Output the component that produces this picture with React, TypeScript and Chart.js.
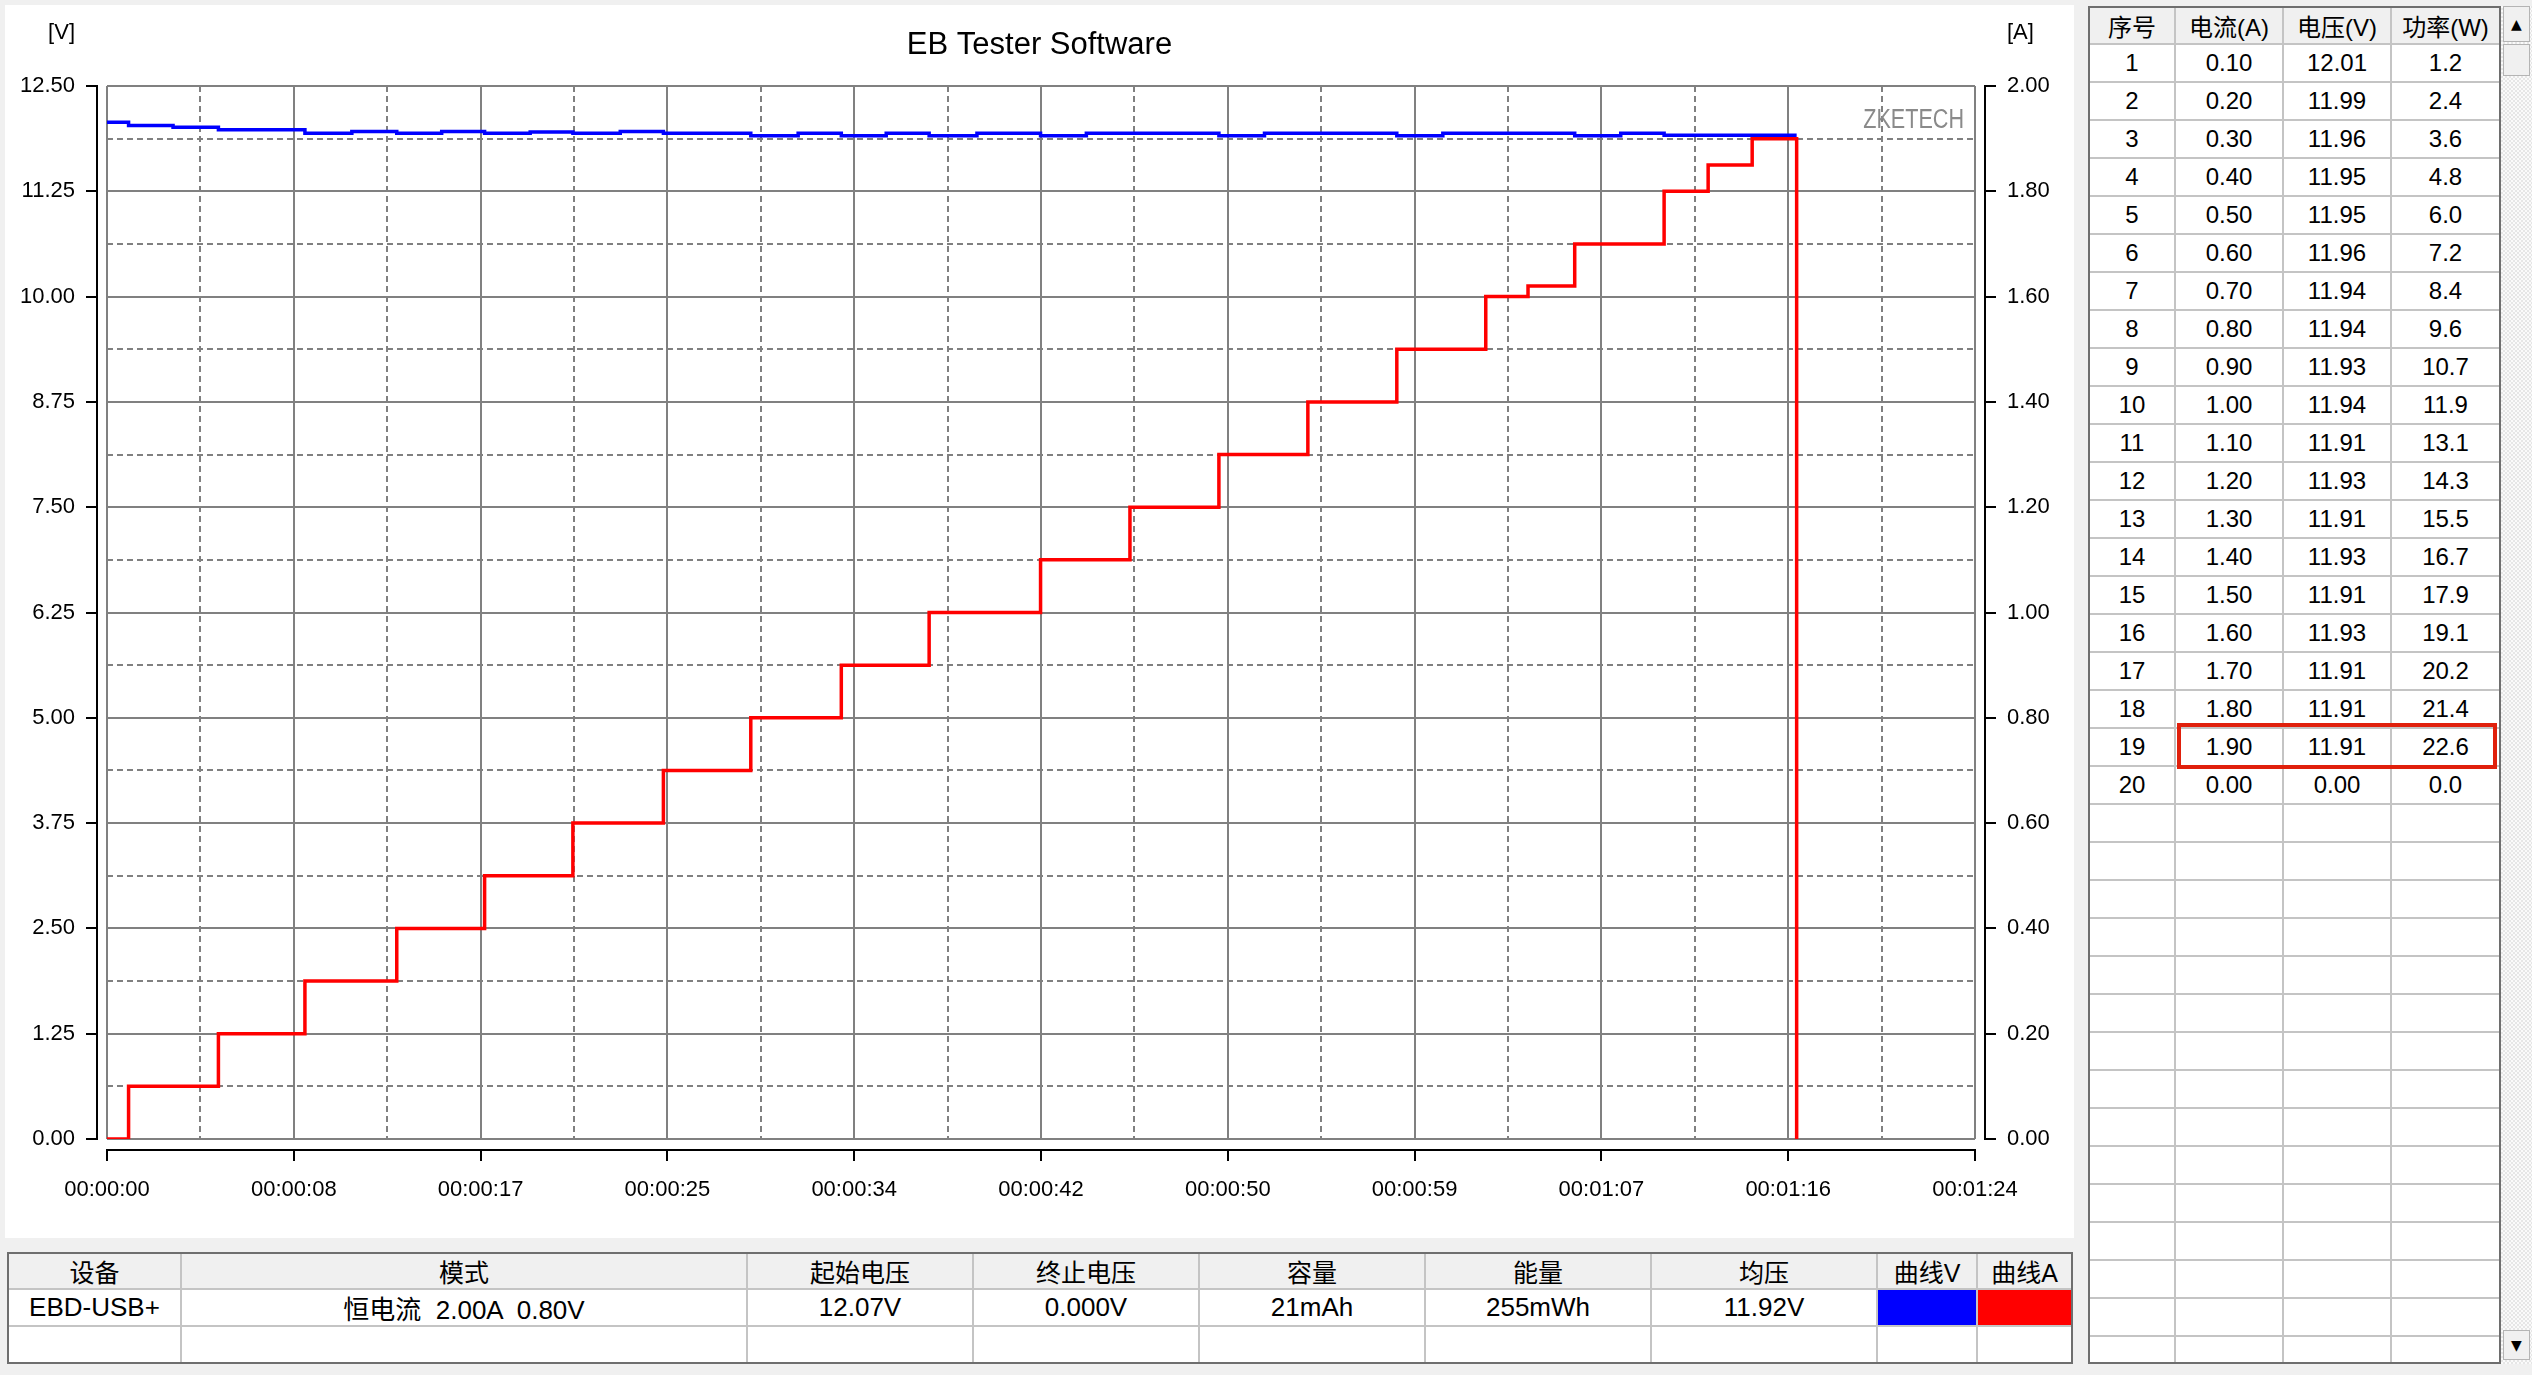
import React, { useEffect, useRef } from 'react';
import { Chart, registerables } from 'chart.js';

Chart.register(...registerables);

// ---------------- data ----------------
const TITLE = 'EB Tester Software';
const WATERMARK = 'ZKETECH';
const V_UNIT = '[V]';
const A_UNIT = '[A]';

// sample times (s) where either curve changes
const TIME_S = [
  0, 0.97, 2.97, 5.01, 8.9, 11.01, 13.03, 15.05, 16.98, 19.03, 20.95, 23.08, 25.02, 28.95, 31.08,
  33.02, 35.04, 36.97, 39.12, 41.98, 44.04, 46.0, 50.0, 52.05, 54.0, 58.0, 60.07, 62.0, 63.9, 66.0,
  68.07, 70.02, 72.0, 73.98, 75.98,
];
const CURRENT_A = [
  0, 0.1, 0.1, 0.2, 0.3, 0.3, 0.4, 0.4, 0.5, 0.5, 0.6, 0.6, 0.7, 0.8, 0.8,
  0.9, 0.9, 1.0, 1.0, 1.1, 1.1, 1.2, 1.3, 1.3, 1.4, 1.5, 1.5, 1.6, 1.62, 1.7,
  1.7, 1.8, 1.85, 1.9, 0,
];
const VOLTAGE_V = [
  12.07, 12.03, 12.01, 11.98, 11.94, 11.96, 11.94, 11.96, 11.94, 11.955, 11.94, 11.96, 11.94, 11.91, 11.94,
  11.91, 11.94, 11.91, 11.94, 11.91, 11.94, 11.94, 11.91, 11.94, 11.94, 11.91, 11.94, 11.94, 11.94, 11.91,
  11.94, 11.915, 11.915, 11.915, 11.915,
];

const X_TICK_LABELS = [
  '00:00:00', '00:00:08', '00:00:17', '00:00:25', '00:00:34', '00:00:42',
  '00:00:50', '00:00:59', '00:01:07', '00:01:16', '00:01:24',
];
const V_TICK_LABELS = ['0.00', '1.25', '2.50', '3.75', '5.00', '6.25', '7.50', '8.75', '10.00', '11.25', '12.50'];
const A_TICK_LABELS = ['0.00', '0.20', '0.40', '0.60', '0.80', '1.00', '1.20', '1.40', '1.60', '1.80', '2.00'];
const X_MAX_S = 84;
const V_MAX = 12.5;
const A_MAX = 2;

// right-hand table
const TABLE_HEADERS = ['序号', '电流(A)', '电压(V)', '功率(W)'];
const ROW_NO = [1, 2, 3, 4, 5, 6, 7, 8, 9, 10, 11, 12, 13, 14, 15, 16, 17, 18, 19, 20];
const ROW_CURRENT_A = [0.1, 0.2, 0.3, 0.4, 0.5, 0.6, 0.7, 0.8, 0.9, 1.0, 1.1, 1.2, 1.3, 1.4, 1.5, 1.6, 1.7, 1.8, 1.9, 0];
const ROW_VOLTAGE_V = [12.01, 11.99, 11.96, 11.95, 11.95, 11.96, 11.94, 11.94, 11.93, 11.94, 11.91, 11.93, 11.91, 11.93, 11.91, 11.93, 11.91, 11.91, 11.91, 0];
const ROW_POWER_W = [1.2, 2.4, 3.6, 4.8, 6.0, 7.2, 8.4, 9.6, 10.7, 11.9, 13.1, 14.3, 15.5, 16.7, 17.9, 19.1, 20.2, 21.4, 22.6, 0];

// bottom summary table
const SUMMARY_HEADERS = ['设备', '模式', '起始电压', '终止电压', '容量', '能量', '均压', '曲线V', '曲线A'];
const SUMMARY_VALUES = ['EBD-USB+', '恒电流  2.00A  0.80V', '12.07V', '0.000V', '21mAh', '255mWh', '11.92V'];

// ---------------- styles ----------------
const LATIN = "'Liberation Sans', Arial, sans-serif";
const MIXED = "'Liberation Sans', 'Noto Sans CJK SC', sans-serif";
const GRID = '#808080';
const BLUE = '#0000ff';
const RED = '#ff0000';
const TICK_SIZE = 22;

const axesPlugin = {
  id: 'ebAxes',
  beforeDatasetsDraw(chart: any) {
    const { ctx, chartArea: ca } = chart;
    ctx.save();
    ctx.font = `27px ${LATIN}`;
    ctx.fillStyle = '#8a8a8a';
    ctx.textAlign = 'right';
    ctx.textBaseline = 'alphabetic';
    ctx.translate(ca.right - 11, ca.top + 42);
    ctx.scale(0.8, 1);
    ctx.fillText(WATERMARK, 0, 0);
    ctx.restore();
  },
  afterDraw(chart: any) {
    const { ctx, chartArea: ca, scales } = chart;
    const xs = scales.x;
    const yv = scales.yV;
    const ya = scales.yA;
    ctx.save();
    ctx.strokeStyle = '#000';
    ctx.lineWidth = 2;
    ctx.beginPath();
    // left axis
    const lx = ca.left - 10;
    ctx.moveTo(lx, ca.top - 1);
    ctx.lineTo(lx, ca.bottom + 1);
    yv.ticks.forEach((_t: any, i: number) => {
      if (i % 2 === 0) {
        const p = Math.round(yv.getPixelForTick(i));
        ctx.moveTo(lx - 11, p);
        ctx.lineTo(lx, p);
      }
    });
    // right axis
    const rx = ca.right + 10;
    ctx.moveTo(rx, ca.top - 1);
    ctx.lineTo(rx, ca.bottom + 1);
    ya.ticks.forEach((_t: any, i: number) => {
      const p = Math.round(ya.getPixelForTick(i));
      ctx.moveTo(rx, p);
      ctx.lineTo(rx + 11, p);
    });
    // bottom axis
    const by = ca.bottom + 11;
    ctx.moveTo(ca.left - 1, by);
    ctx.lineTo(ca.right + 1, by);
    xs.ticks.forEach((_t: any, i: number) => {
      if (i % 2 === 0) {
        const p = Math.round(xs.getPixelForTick(i));
        ctx.moveTo(p, by);
        ctx.lineTo(p, by + 11);
      }
    });
    ctx.stroke();

    ctx.fillStyle = '#000';
    ctx.font = `${TICK_SIZE}px ${LATIN}`;
    ctx.textBaseline = 'middle';
    ctx.textAlign = 'right';
    ctx.fillText(V_UNIT, ca.left - 32, 28);
    ctx.textAlign = 'left';
    ctx.fillText(A_UNIT, ca.right + 32, 28);
    ctx.restore();
  },
};

const dashFor = (c: any) => (c.index % 2 === 1 ? [6, 4] : []);

function EBChart() {
  const ref = useRef<HTMLCanvasElement | null>(null);
  useEffect(() => {
    if (!ref.current) return;
    const chart = new Chart(ref.current, {
      type: 'line',
      data: {
        datasets: [
          {
            label: 'A',
            data: TIME_S.map((t, i) => ({ x: t, y: CURRENT_A[i] })),
            yAxisID: 'yA',
            borderColor: RED,
            borderWidth: 3.5,
            pointRadius: 0,
            stepped: 'before',
            fill: false,
          },
          {
            label: 'V',
            data: TIME_S.map((t, i) => ({ x: t, y: VOLTAGE_V[i] })),
            yAxisID: 'yV',
            borderColor: BLUE,
            borderWidth: 3.5,
            pointRadius: 0,
            stepped: 'before',
            fill: false,
          },
        ],
      },
      options: {
        responsive: false,
        animation: false,
        devicePixelRatio: 1,
        layout: { padding: 0 },
        plugins: {
          legend: { display: false },
          tooltip: { enabled: false },
          title: {
            display: true,
            text: TITLE,
            color: '#000',
            font: { family: "'Liberation Sans', Arial, sans-serif", size: 31, weight: 'normal', lineHeight: '36px' },
            padding: { top: 22, bottom: 23 },
          },
        },
        scales: {
          x: {
            type: 'linear',
            min: 0,
            max: X_MAX_S,
            afterFit: (s: any) => { s.height = 99; },
            grid: { color: GRID, lineWidth: 2, drawTicks: false },
            border: { display: false, dash: dashFor },
            ticks: {
              stepSize: X_MAX_S / ((X_TICK_LABELS.length - 1) * 2),
              maxTicksLimit: 100,
              autoSkip: false,
              maxRotation: 0,
              padding: 38,
              color: '#000',
              font: { family: LATIN, size: TICK_SIZE },
              callback: (_v: any, i: number) => (i % 2 === 0 ? X_TICK_LABELS[i / 2] : ''),
            },
          },
          yV: {
            type: 'linear',
            position: 'left',
            min: 0,
            max: V_MAX,
            afterFit: (s: any) => { s.width = 102; },
            grid: { color: GRID, lineWidth: 2, drawTicks: false },
            border: { display: false, dash: dashFor },
            ticks: {
              stepSize: V_MAX / ((V_TICK_LABELS.length - 1) * 2),
              maxTicksLimit: 100,
              autoSkip: false,
              padding: 32,
              color: '#000',
              font: { family: LATIN, size: TICK_SIZE },
              callback: (_v: any, i: number) => (i % 2 === 0 ? V_TICK_LABELS[i / 2] : ''),
            },
          },
          yA: {
            type: 'linear',
            position: 'right',
            min: 0,
            max: A_MAX,
            afterFit: (s: any) => { s.width = 99; },
            grid: { display: false, drawOnChartArea: false, drawTicks: false },
            border: { display: false },
            ticks: {
              stepSize: A_MAX / (A_TICK_LABELS.length - 1),
              maxTicksLimit: 100,
              autoSkip: false,
              padding: 32,
              color: '#000',
              font: { family: LATIN, size: TICK_SIZE },
              callback: (_v: any, i: number) => A_TICK_LABELS[i],
            },
          },
        },
      },
      plugins: [axesPlugin],
    } as any);
    return () => chart.destroy();
  }, []);
  return <canvas ref={ref} width={2069} height={1233} style={{ display: 'block' }} />;
}

const cellBase: React.CSSProperties = {
  display: 'flex',
  alignItems: 'center',
  justifyContent: 'center',
  whiteSpace: 'pre',
  overflow: 'hidden',
  color: '#000',
};

function SummaryTable() {
  return (
    <div
      style={{
        position: 'absolute', left: 7, top: 1252, width: 2066, height: 112, boxSizing: 'border-box',
        border: '2px solid #6e6e6e', background: '#c4c4c4', display: 'grid',
        gridTemplateColumns: '171px 564px 224px 224px 224px 224px 224px 98px 93px',
        gridTemplateRows: '34px 35px 35px', columnGap: 2, rowGap: 2, fontFamily: MIXED,
      }}
    >
      {SUMMARY_HEADERS.map((h) => (
        <div key={'h' + h} style={{ ...cellBase, background: '#f0f0f0', fontSize: 25 }}>{h}</div>
      ))}
      {SUMMARY_VALUES.map((v, i) => (
        <div key={'v' + i} style={{ ...cellBase, background: '#fff', fontSize: 26 }}>{v}</div>
      ))}
      <div style={{ ...cellBase, background: BLUE }} />
      <div style={{ ...cellBase, background: RED }} />
      {SUMMARY_HEADERS.map((h) => (
        <div key={'e' + h} style={{ ...cellBase, background: '#fff' }} />
      ))}
    </div>
  );
}

function DataTable() {
  const emptyRows = 16;
  return (
    <div
      style={{
        position: 'absolute', left: 2088, top: 6, width: 413, height: 1358, boxSizing: 'border-box',
        border: '2px solid #6e6e6e', background: '#c4c4c4', overflow: 'hidden', display: 'grid',
        gridTemplateColumns: '84px 106px 106px 107px', gridAutoRows: '36px',
        gridTemplateRows: '35px', columnGap: 2, rowGap: 2, fontFamily: MIXED, alignContent: 'start',
      }}
    >
      {TABLE_HEADERS.map((h) => (
        <div key={h} style={{ ...cellBase, background: '#f0f0f0', fontSize: 24 }}>{h}</div>
      ))}
      {ROW_NO.map((n, i) => (
        <React.Fragment key={n}>
          <div style={{ ...cellBase, background: '#fff', fontSize: 24 }}>{String(n)}</div>
          <div style={{ ...cellBase, background: '#fff', fontSize: 24 }}>{ROW_CURRENT_A[i].toFixed(2)}</div>
          <div style={{ ...cellBase, background: '#fff', fontSize: 24 }}>{ROW_VOLTAGE_V[i].toFixed(2)}</div>
          <div style={{ ...cellBase, background: '#fff', fontSize: 24 }}>{ROW_POWER_W[i].toFixed(1)}</div>
        </React.Fragment>
      ))}
      {Array.from({ length: emptyRows * 4 }).map((_, i) => (
        <div key={'x' + i} style={{ ...cellBase, background: '#fff' }} />
      ))}
    </div>
  );
}

function ScrollBar() {
  const btn: React.CSSProperties = {
    position: 'absolute', left: 2, width: 27, boxSizing: 'border-box', background: '#f0f0f0',
    border: '1px solid #b4b4b4', display: 'flex', alignItems: 'center', justifyContent: 'center',
    fontSize: 14, fontFamily: "'DejaVu Sans', sans-serif", color: '#000',
  };
  return (
    <div
      style={{
        position: 'absolute', left: 2501, top: 6, width: 31, height: 1358,
        backgroundColor: '#f2f2f2',
        backgroundImage: 'repeating-conic-gradient(#e6e6e6 0% 25%, #fafafa 0% 50%)',
        backgroundSize: '4px 4px',
      }}
    >
      <div style={{ ...btn, top: 0, height: 36 }}>▲</div>
      <div style={{ ...btn, top: 38, height: 32 }} />
      <div style={{ ...btn, bottom: 4, height: 30 }}>▼</div>
    </div>
  );
}

export default function App() {
  return (
    <div
      style={{
        position: 'fixed', left: 0, top: 0, width: 2532, height: 1375, background: '#f0f0f0',
        overflow: 'hidden',
      }}
    >
      <div style={{ position: 'absolute', left: 5, top: 5, width: 2069, height: 1233, background: '#fff' }}>
        <EBChart />
      </div>
      <SummaryTable />
      <DataTable />
      <ScrollBar />
      <div
        style={{
          position: 'absolute', left: 2177, top: 723, width: 320, height: 46, boxSizing: 'border-box',
          border: '4px solid #e0200c',
        }}
      />
    </div>
  );
}
